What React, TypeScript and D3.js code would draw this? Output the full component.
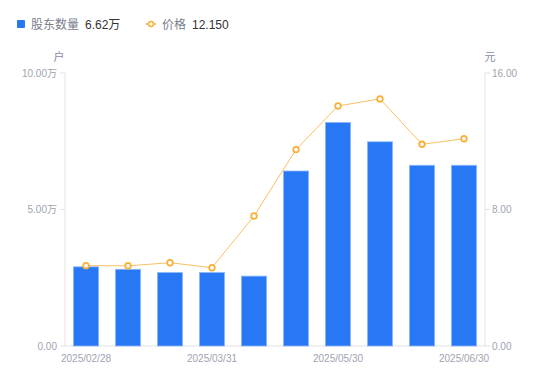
import React from "react";
import * as d3 from "d3";

const dates = ["2025/02/28", "2025/03/10", "2025/03/20", "2025/03/31", "2025/04/10", "2025/04/30", "2025/05/30", "2025/06/10", "2025/06/20", "2025/06/30"];
const holders = [2.9, 2.81, 2.69, 2.69, 2.56, 6.41, 8.19, 7.48, 6.62, 6.62];
const prices = [4.71, 4.7, 4.88, 4.59, 7.62, 11.51, 14.07, 14.48, 11.82, 12.15];
const shownLabels = ["2025/02/28", "2025/03/31", "2025/05/30", "2025/06/30"];
const leftTicks = [0, 5, 10];
const rightTicks = [0, 8, 16];

const W = 550, H = 381;
const L = 65, R = 485, T = 73, B = 346;
const BLUE = "#2878f5";
const ORANGE = "#f7b13b";
const GRAY = "#a0a3b1";

export default function App() {
  const x = d3.scaleBand<string>().domain(dates).range([L, R]).paddingInner(0).paddingOuter(0);
  const yL = d3.scaleLinear().domain([0, 10]).range([B, T]);
  const yR = d3.scaleLinear().domain([0, 16]).range([B, T]);
  const bw = x.bandwidth() * 0.6;
  const cx = (d: string) => (x(d) as number) + x.bandwidth() / 2;
  const line = d3.line<number>().x((_, i) => cx(dates[i])).y((v) => yR(v));
  const font = "Arial, 'Liberation Sans', 'Noto Sans CJK SC', sans-serif";
  return (
    <svg width={W} height={H} style={{ position: "absolute", left: 0, top: 0, fontFamily: font }}>
      <rect width={W} height={H} fill="#fff" />
      {/* legend */}
      <rect x={17} y={20} width={8} height={8} fill={BLUE} rx={1} />
      <text x={31} y={28.5} fontSize={12} fill="#7a7d8c">股东数量</text>
      <text x={85} y={28.5} fontSize={12} fill="#333">6.62万</text>
      <line x1={146} x2={156} y1={24} y2={24} stroke={ORANGE} strokeWidth={1.5} />
      <circle cx={151} cy={24} r={2.5} fill="#fff" stroke={ORANGE} strokeWidth={1.5} />
      <text x={162} y={28.5} fontSize={12} fill="#7a7d8c">价格</text>
      <text x={192} y={28.5} fontSize={12} fill="#333">12.150</text>
      {/* units */}
      <text x={59} y={61} fontSize={11} fill="#8a8d9c" textAnchor="middle">户</text>
      <text x={490} y={61} fontSize={11} fill="#8a8d9c" textAnchor="middle">元</text>
      {/* axes */}
      <line x1={L} x2={L} y1={T} y2={B} stroke="#e3e3e3" />
      <line x1={R} x2={R} y1={T} y2={B} stroke="#e3e3e3" />
      <line x1={L} x2={R} y1={B} y2={B} stroke="#e3e3e3" />
      {leftTicks.map((t) => (
        <g key={"l" + t}>
          <line x1={L - 5} x2={L} y1={yL(t)} y2={yL(t)} stroke="#e3e3e3" />
          <text x={L - 8} y={yL(t) + 3.5} fontSize={10} fill={GRAY} textAnchor="end">
            {t === 0 ? "0.00" : t.toFixed(2) + "万"}
          </text>
        </g>
      ))}
      {rightTicks.map((t) => (
        <g key={"r" + t}>
          <line x1={R} x2={R + 5} y1={yR(t)} y2={yR(t)} stroke="#e3e3e3" />
          <text x={R + 7} y={yR(t) + 3.5} fontSize={10} fill={GRAY} textAnchor="start">
            {t.toFixed(2)}
          </text>
        </g>
      ))}
      {shownLabels.map((d) => (
        <text key={d} x={cx(d)} y={362} fontSize={10} fill={GRAY} textAnchor="middle">{d}</text>
      ))}
      {/* bars */}
      {holders.map((v, i) => (
        <rect key={i} x={cx(dates[i]) - bw / 2} y={yL(v)} width={bw} height={B - yL(v)}
          fill={BLUE} stroke="#8db8fa" strokeWidth={0.8} />
      ))}
      {/* line */}
      <path d={line(prices) || ""} fill="none" stroke="#f9c063" strokeWidth={1} />
      {prices.map((v, i) => (
        <circle key={i} cx={cx(dates[i])} cy={yR(v)} r={2.8} fill="#fff" stroke={ORANGE} strokeWidth={1.8} />
      ))}
    </svg>
  );
}
